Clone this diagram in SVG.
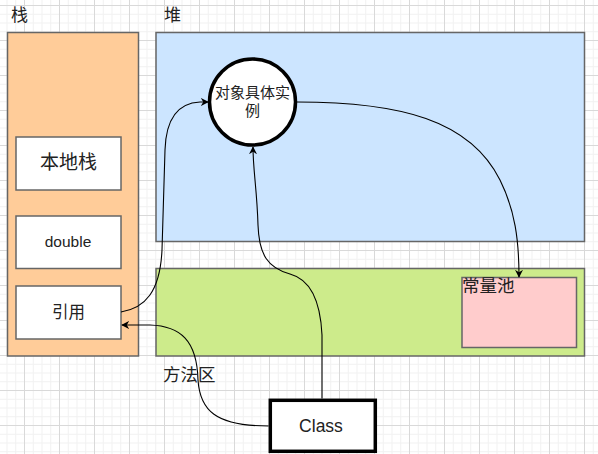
<svg xmlns="http://www.w3.org/2000/svg" width="598" height="454" viewBox="0 0 598 454">
<defs>
<pattern id="grid" x="24" y="5" width="35" height="35" patternUnits="userSpaceOnUse">
<path d="M9.25,0V35M18,0V35M26.75,0V35M0,9.25H35M0,18H35M0,26.75H35" stroke="#f1f1f1" stroke-width="1" fill="none"/>
<path d="M0.5,0V35M0,0.5H35" stroke="#d9d9d9" stroke-width="1" fill="none"/>
</pattern>
<marker id="arr" viewBox="0 0 10 10" refX="9" refY="5" markerWidth="8" markerHeight="8" markerUnits="userSpaceOnUse" orient="auto">
<path d="M0,0 L10,5 L0,10 L3,5 Z" fill="#000"/>
</marker>
<style>
.t{font-family:"Liberation Sans","Noto Sans CJK SC",Arial,sans-serif;fill:#222}
.box{stroke:#666666;stroke-width:1.5}
.edge{fill:none;stroke:#000;stroke-width:1.1}
</style>
</defs>
<rect width="598" height="454" fill="#fff"/>
<rect width="598" height="454" fill="url(#grid)"/>

<g id="stack">
<rect class="box" x="7.5" y="32.5" width="131" height="323.5" fill="#ffcc99"/>
<text class="t" x="11" y="21" font-size="17">栈</text>
</g>
<g id="heap">
<rect class="box" x="156" y="32.5" width="428.5" height="209" fill="#cce5ff"/>
<text class="t" x="164" y="21" font-size="17">堆</text>
</g>
<g id="method-area">
<rect class="box" x="156" y="268.5" width="428.5" height="87.5" fill="#cdeb8b"/>
<text class="t" x="163" y="381" font-size="17.5">方法区</text>
</g>
<g id="const-pool">
<rect class="box" x="462" y="277.5" width="114.5" height="70" fill="#ffcccc"/>
<text class="t" x="462" y="292" font-size="17.5">常量池</text>
</g>
<g id="local-stack">
<rect class="box" x="16" y="137" width="105" height="53" fill="#fff"/>
<text class="t" x="68.5" y="169" font-size="19" text-anchor="middle">本地栈</text>
</g>
<g id="double">
<rect class="box" x="16" y="216" width="105" height="52.5" fill="#fff"/>
<text class="t" x="68" y="247" font-size="15.5" text-anchor="middle">double</text>
</g>
<g id="ref">
<rect class="box" x="16" y="286" width="105" height="53" fill="#fff"/>
<text class="t" x="68.5" y="318" font-size="16.5" text-anchor="middle">引用</text>
</g>
<g id="instance">
<circle cx="252.5" cy="102" r="43" fill="#fff" stroke="#000" stroke-width="3.5"/>
<text class="t" x="252.5" y="98" font-size="15" text-anchor="middle">对象具体实</text>
<text class="t" x="252.5" y="116" font-size="15" text-anchor="middle">例</text>
</g>
<g id="class">
<rect x="270.3" y="400.3" width="105" height="51" fill="#fff" stroke="#000" stroke-width="3.5"/>
<text class="t" x="321" y="431.5" font-size="17.5" text-anchor="middle">Class</text>
</g>

<g id="connectors">
<path class="edge" d="M121,312 C145,308 160,292 162,250 L165,150 C166,118 178,103 200,102 L208,102" marker-end="url(#arr)"/>
<path class="edge" d="M322,398.5 L322,335 C320,292 305,278 290,274 C268,268 259,255 258,225 C257,190 253,170 253,147" marker-end="url(#arr)"/>
<path class="edge" d="M297,102 C400,102 470,120 500,180 C515,210 519,240 519,277" marker-end="url(#arr)"/>
<path class="edge" d="M268.5,426 C215,426 200,410 198,380 C197,340 180,326 150,325 L122,325" marker-end="url(#arr)"/>
</g>
</svg>
